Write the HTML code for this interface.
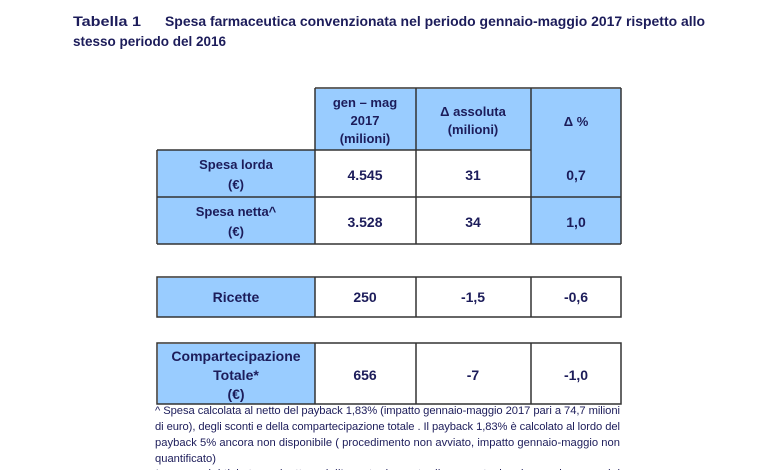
<!DOCTYPE html>
<html><head><meta charset="utf-8"><style>
html,body{margin:0;padding:0;background:#fff;overflow:hidden;}
svg{display:block;font-family:"Liberation Sans",sans-serif;}
.t{font-weight:bold;fill:#1c1c5a;font-size:13.5px;}
.c{font-weight:bold;fill:#1c1c5a;font-size:13px;text-anchor:middle;}
.n{font-weight:bold;fill:#1c1c5a;font-size:14px;text-anchor:middle;}
.f{fill:#1c1c5a;font-size:11.2px;}
</style></head><body>
<svg width="780" height="470" viewBox="0 0 780 470">
<text class="t" x="73" y="26" textLength="68" lengthAdjust="spacingAndGlyphs">Tabella 1</text>
<text class="t" x="165" y="26" textLength="540" lengthAdjust="spacingAndGlyphs">Spesa farmaceutica convenzionata nel periodo gennaio-maggio 2017 rispetto allo</text>
<text class="t" x="73" y="46" textLength="153" lengthAdjust="spacingAndGlyphs">stesso periodo del 2016</text>
<g fill="#99ccff">
<rect x="315" y="89" width="101" height="61"/>
<rect x="416" y="89" width="115" height="61"/>
<rect x="531" y="89" width="90" height="155"/>
<rect x="158" y="150" width="157" height="94"/>
<rect x="158" y="278" width="157" height="39"/>
<rect x="158" y="344" width="157" height="60"/>
</g>
<g stroke="#333" stroke-width="1.5" fill="none">
<path d="M315 88H621M157 150H531M157 197H621M157 244H621"/>
<path d="M315 88V244M416 88V244M531 88V244M157 150V244M621 88V244"/>
<rect x="157" y="277" width="464" height="40"/>
<path d="M315 277V317M416 277V317M531 277V317"/>
<rect x="157" y="343" width="464" height="61"/>
<path d="M315 343V404M416 343V404M531 343V404"/>
</g>
<text class="c" x="365" y="107">gen – mag</text>
<text class="c" x="365" y="125">2017</text>
<text class="c" x="365" y="143">(milioni)</text>
<text class="c" x="473" y="116">Δ assoluta</text>
<text class="c" x="473" y="134">(milioni)</text>
<text class="c" x="576" y="126">Δ %</text>
<text class="c" x="236" y="169">Spesa lorda</text>
<text class="c" x="236" y="189">(€)</text>
<text class="n" x="365" y="180">4.545</text>
<text class="n" x="473" y="180">31</text>
<text class="n" x="576" y="180">0,7</text>
<text class="c" x="236" y="216">Spesa netta^</text>
<text class="c" x="236" y="236">(€)</text>
<text class="n" x="365" y="227">3.528</text>
<text class="n" x="473" y="227">34</text>
<text class="n" x="576" y="227">1,0</text>
<text class="n" x="236" y="302">Ricette</text>
<text class="n" x="365" y="302">250</text>
<text class="n" x="473" y="302">-1,5</text>
<text class="n" x="576" y="302">-0,6</text>
<text class="n" x="236" y="361">Compartecipazione</text>
<text class="n" x="236" y="380">Totale*</text>
<text class="n" x="236" y="399">(€)</text>
<text class="n" x="365" y="380">656</text>
<text class="n" x="473" y="380">-7</text>
<text class="n" x="576" y="380">-1,0</text>
<text class="f" x="155" y="414" textLength="465" lengthAdjust="spacing">^ Spesa calcolata al netto del payback 1,83% (impatto gennaio-maggio 2017 pari a 74,7 milioni</text>
<text class="f" x="155" y="430" textLength="465" lengthAdjust="spacing">di euro), degli sconti e della compartecipazione totale . Il payback 1,83% è calcolato al lordo del</text>
<text class="f" x="155" y="446" textLength="465" lengthAdjust="spacing">payback 5% ancora non disponibile ( procedimento non avviato, impatto gennaio-maggio non</text>
<text class="f" x="155" y="462">quantificato)</text>
<text class="f" x="155" y="477" textLength="465" lengthAdjust="spacing">* somma del ticket per ricetta e dell’eventuale quota di compartecipazione sul prezzo del</text>
</svg>
</body></html>
